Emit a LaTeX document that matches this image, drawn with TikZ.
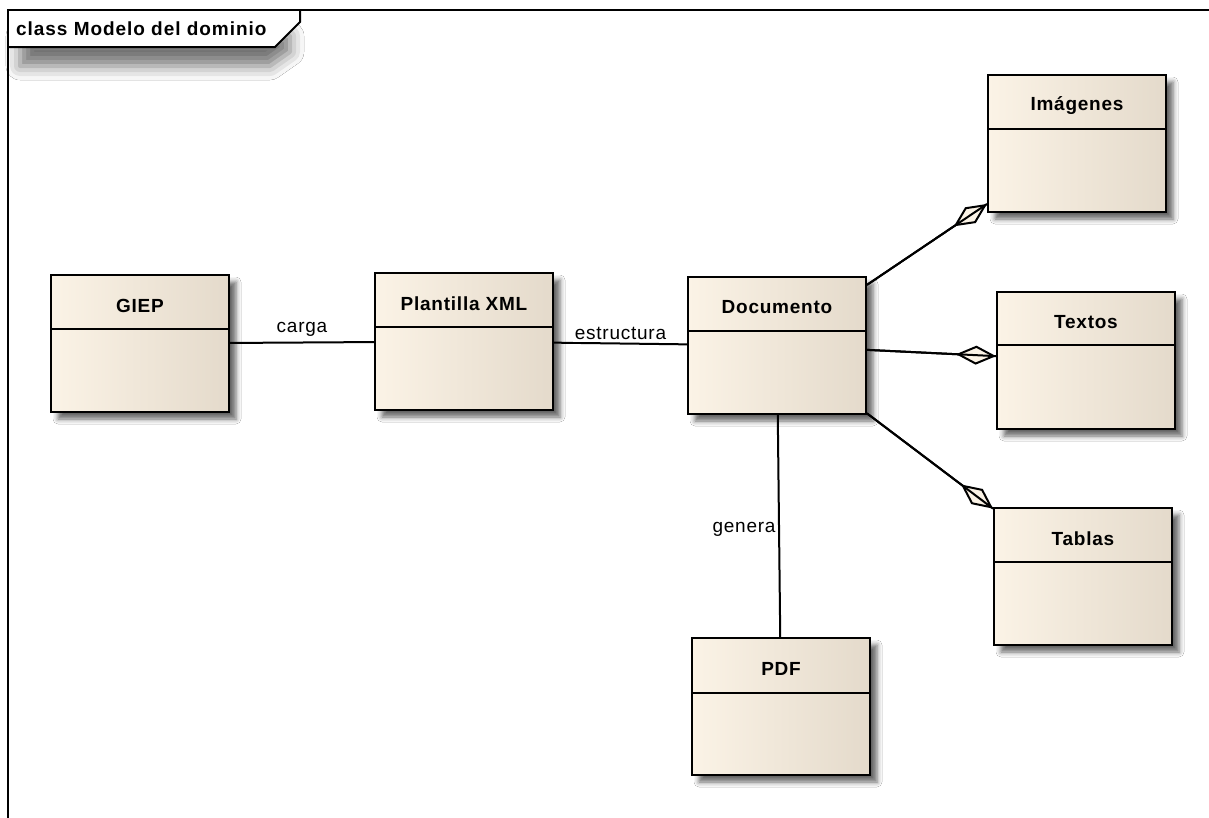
\documentclass[tikz,border=0pt]{standalone}
\usepackage{fontspec}
\setmainfont{Liberation Sans}
\newfontfamily\umlfont[LetterSpace=4]{Liberation Sans}
\newfontfamily\framefont[LetterSpace=5]{Liberation Sans}
\usetikzlibrary{arrows.meta,shadows.blur,calc}

\definecolor{creamL}{RGB}{251,243,230}
\definecolor{creamM}{RGB}{246,237,223}
\definecolor{creamR}{RGB}{228,218,203}

\tikzset{
  x=1pt, y=-1pt,
  umlline/.style={line width=2pt, draw=black},
  classbox/.style={umlline, minimum width=178pt, minimum height=137pt,
    inner sep=0pt, left color=creamL, middle color=creamM, right color=creamR,
    blur shadow={shadow xshift=7pt, shadow yshift=-7pt, shadow blur radius=5pt,
      shadow opacity=60}},
  classtitle/.style={font=\umlfont\bfseries\fontsize{19}{19}\selectfont},
  conn/.style={umlline},
  agg/.style={umlline, -{Diamond[length=40pt, width=19pt, fill=creamL, line width=2pt]}},
  lbl/.style={fill=white, inner sep=1.5pt, font=\umlfont\fontsize{19}{19}\selectfont},
}

% name, left, top, divider offset, title
\newcommand\umlclass[5]{%
  \node[classbox, anchor=north west] (#1) at (#2,#3) {};
  \draw[umlline] ($(#1.north west)+(0,#4)$) -- ($(#1.north east)+(0,#4)$);
  \node[classtitle] at ($(#1.north)+(0,#4/2+4)$) {#5};
}

\begin{document}
\begin{tikzpicture}
\useasboundingbox (0,0) rectangle (1209,817);
\fill[white] (0,0) rectangle (1209,817);

% soft shadow below the name tab
\path[blur shadow={shadow xshift=0pt, shadow yshift=0pt,
  shadow blur radius=14pt, shadow opacity=55}]
  (20,36) -- (290,36) -- (290,52) -- (270,66) -- (20,66) -- cycle;
\fill[white] (8,10) -- (300,10) -- (300,22) -- (275,47) -- (8,47) -- cycle;

% diagram frame with its name tab
\draw[umlline] (8,830) -- (8,10) -- (1215,10);
\draw[umlline] (8,47) -- (275,47) -- (300,22) -- (300,10);
\node[anchor=west, fill=white, inner sep=1pt,
  font=\framefont\bfseries\fontsize{19}{19}\selectfont] (frametitle) at (15,29)
  {class Modelo del dominio};

% classes
\umlclass{giep}{50}{274}{55}{GIEP}
\umlclass{plantilla}{374}{272}{55}{Plantilla XML}
\umlclass{documento}{687}{276}{55}{Documento}
\umlclass{imagenes}{987}{74}{55}{Imágenes}
\umlclass{textos}{996}{291}{54}{Textos}
\umlclass{tablas}{993}{507}{55}{Tablas}
\umlclass{pdf}{691}{637}{56}{PDF}

% associations
\draw[conn] (giep) -- node[lbl, above=4pt] {carga} (plantilla);
\draw[conn] (plantilla) -- node[lbl, above=1pt] {estructura} (documento);
\draw[conn] (documento) -- node[lbl, pos=0.515, anchor=east, xshift=-1pt] {genera} (pdf);

% aggregations
\draw[agg] (documento) -- (imagenes);
\draw[conn] (documento) -- (imagenes);
\draw[agg] (documento) -- (textos);
\draw[conn] (documento) -- (textos);
\draw[agg] (documento) -- (tablas);
\draw[conn] (documento) -- (tablas);
\end{tikzpicture}
\end{document}
